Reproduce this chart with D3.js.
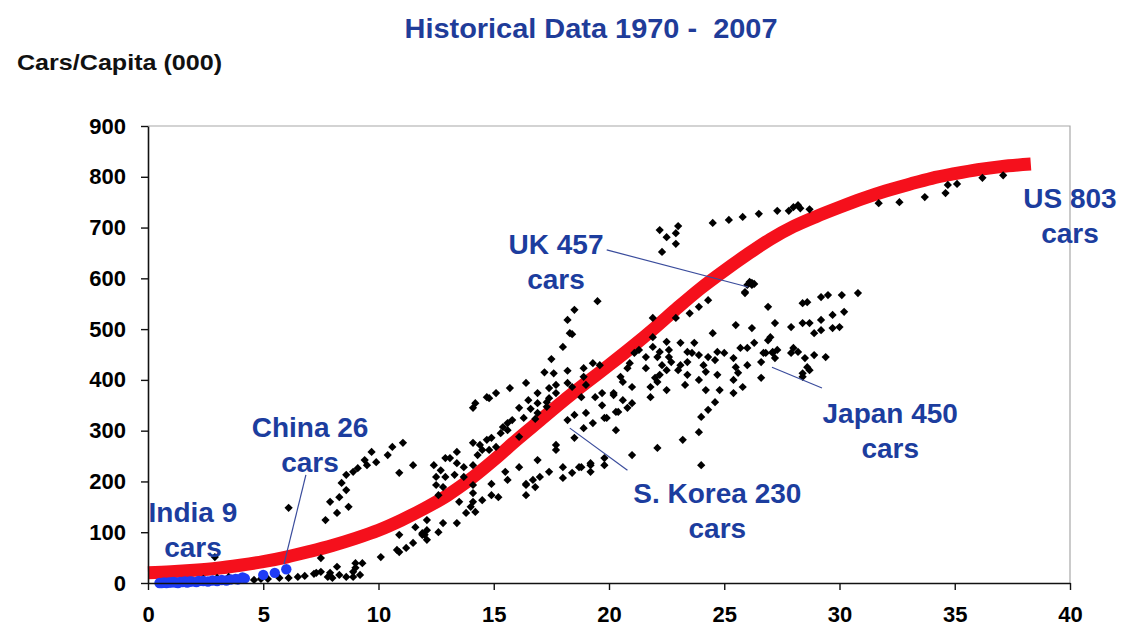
<!DOCTYPE html>
<html><head><meta charset="utf-8">
<script src="https://cdn.jsdelivr.net/npm/d3@7/dist/d3.min.js"></script>
<style>
body{margin:0;background:#fff;}
svg{display:block;font-family:Arial,"Liberation Sans",sans-serif;}
</style></head><body>
<svg id="chart" width="1122" height="629"></svg>
<script>
const xTicks = [0,5,10,15,20,25,30,35,40];
const yTicks = [0,100,200,300,400,500,600,700,800,900];

// Red fitted trend (cars per 1000 vs income)
const trendX = [0,1,2,3,4,5,6,7,8,9,10,11,12,13,14,15,16,17,18,19,20,21,22,23,24,25,26,27,28,29,30,31,32,33,34,35,36,37,38.3];
const trendY = [20,22,25,29,35,42,51,62,74,88,104,124,147,173,205,242,282,320,358,394,429,465,503,543,581,615,647,677,702,722,740,757,772,785,797,806,814,820,825];

// Blue (India / China)
const blueX = [0.5,0.6,0.7,0.8,0.9,1.0,1.1,1.2,1.3,1.4,1.5,1.6,1.7,1.8,1.9,2.1,2.2,2.4,2.6,2.8,3.0,3.2,3.4,3.6,3.8,3.9,4.1,4.2,5.0,5.5,6.0];
const blueY = [0,0,1,0,1,1,2,1,0,2,2,3,1,3,3,2,4,4,3,5,4,6,5,7,8,7,11,9,16,20,27];

// Black (other countries, 1970-2007)
const blackPts = [
[2.9,51],[2.4,8],[3.0,10],[3.5,12],[4.6,6],[4.9,8],[5.2,8],[5.7,10],[6.1,10],[6.5,12],[6.8,14],[7.2,18],[7.3,20],[7.5,49],[7.5,22],[7.8,12],[7.9,20],[8.0,10],[8.2,32],[8.3,16],[8.6,12],[8.9,12],[8.9,22],[9.0,30],[9.0,39],[9.2,16],[9.3,39],[10.1,51],[10.8,65],[6.1,148],
[7.7,124],[7.9,160],[8.2,138],[8.3,169],[8.4,197],[8.6,183],[8.6,213],[8.7,150],[8.9,219],[9.1,226],[9.4,242],[9.5,232],[9.7,258],[9.9,238],[10.4,252],[10.6,268],[11.06,276],[11.5,232],[10.9,217],[12.4,232],[12.5,193],[12.6,173],[12.1,124],[11.6,110],[12.1,104],[10.9,95],[11.9,95],[12.1,85],[11.5,79],[11.2,69],[10.9,61],[12.0,95],[12.6,100],[13.4,118],[12.8,118],[11.9,98],
[18.4,490],[18.0,465],[17.5,441],[17.2,415],[17.6,413],[18.2,418],[18.9,423],[19.3,433],[19.6,429],[16.4,394],[15.7,384],[15.1,374],[14.8,364],[14.2,354],[14.1,345],[16.9,374],[17.4,384],[17.7,390],[17.7,374],[18.2,394],[18.4,386],[18.9,406],[19.0,390],[16.5,360],[16.1,345],[16.6,343],[16.9,354],[17.3,356],[17.3,347],[16.9,335],[16.8,323],[16.3,325],[15.8,321],[15.6,315],[15.4,307],[15.6,301],[15.3,295],[14.9,286],[14.7,282],[14.4,272],[14.1,276],[14.5,262],[14.8,262],[15.1,268],[16.1,288],[13.4,258],[13.1,246],[12.9,246],[12.7,222],[12.5,209],[12.9,209],[13.4,236],[13.7,228],[14.1,232],[13.3,213],[13.7,209],[12.8,189],[16.1,228],[16.9,242],[17.7,272],[17.7,262],[18.0,228],[17.4,219],[17.0,209],[16.7,203],[16.4,195],[16.8,189],[18.0,207],[18.4,217],[18.8,228],[19.2,236],[19.2,219],[19.8,246],[15.6,203],[14.9,195],[15.2,169],[14.9,173],[14.5,163],[14.1,177],[14.1,160],[14.0,150],[14.2,140],[13.8,138],[13.5,160],[16.4,173],[16.4,193],[15.5,219],[14.3,252],[14.1,193],[17.4,364],[19.7,374],[19.4,366],[20.2,374],[20.3,337],[19.8,325],[19.3,315],[19.0,335],[18.5,331],[18.9,305],[18.5,286],[18.2,321],[18.8,366],[20.3,301],
[19.5,555],[18.5,538],[18.2,518],[18.3,492],[14.7,366],
[25.9,571],[26.9,544],[24.3,557],[23.9,544],[23.5,531],[22.9,522],[21.9,522],[25.5,508],[26.2,502],[27.2,512],[24.5,492],[22.5,475],[23.1,473],[23.7,473],[21.9,465],[21.3,459],[22.2,455],[22.6,459],[23.4,455],[23.6,453],[23.9,449],[24.7,455],[25.0,453],[25.7,463],[26.0,463],[26.3,473],[27.0,484],[27.1,455],[26.7,453],[21.1,453],[21.6,445],[22.1,445],[22.6,445],[22.7,435],[23.1,429],[23.4,435],[24.3,445],[24.6,439],[25.4,443],[26.0,429],[26.6,435],[20.9,433],[20.8,423],[21.6,423],[22.3,429],[22.5,419],[22.2,410],[22.0,404],[22.1,396],[23.0,419],[23.4,410],[24.1,429],[24.2,416],[24.7,410],[25.5,425],[25.6,414],[25.4,400],[25.8,386],[26.6,404],[20.5,406],[20.6,396],[21.0,386],[21.8,386],[21.8,366],[22.5,380],[23.3,390],[23.9,400],[24.2,380],[24.8,380],[25.4,374],[20.2,370],[20.6,360],[21.0,354],[20.8,345],[20.4,337],[19.7,350],[19.9,325],[24.6,356],[24.3,341],[24.0,327],[23.9,297],[23.2,282],[22.1,266],[21.0,252],[19.8,232],[24.0,232],[21.9,484],[19.2,232],[18.7,228],
[30.8,571],[30.1,567],[29.5,567],[29.2,563],[28.6,553],[28.4,551],[30.2,534],[29.7,528],[29.2,518],[30.0,504],[29.7,502],[29.2,498],[28.9,492],[28.7,512],[28.4,512],[27.9,504],[26.9,478],[28.0,463],[28.2,455],[27.9,453],[27.3,459],[27.1,453],[26.8,453],[27.2,443],[28.5,443],[28.9,449],[29.4,445],[28.6,425],[28.7,419],[28.4,413],[28.4,406],
[22.2,695],[23.0,703],[22.9,689],[22.5,681],[22.9,668],[22.3,652],[24.5,709],[25.2,715],[25.8,721],[26.5,727],[27.3,733],[27.8,733],[28.0,740],[28.2,744],[28.3,738],[28.7,736],[26.1,593],[26.2,587],[26.0,587],[25.9,573],[26.2,591],[26.3,589],[31.7,748],[32.6,750],[33.7,760],[34.6,768],[34.7,784],[35.1,786],[36.2,798],[37.1,803]
];

// Annotations: label lines, anchor (x,y in data units) and leader lines
const labelNames = ["India 9","China 26","UK 457","US 803","Japan 450","S. Korea 230"];
const labelX = [1.95,7.03,17.7,40.0,32.2,24.7];
const labelY = [120,287,648,738,315,157];
const leaders = [
  [[6.85,213],[5.9,37]],
  [[19.9,656],[26.03,583]],
  [[18.3,305],[20.8,222]],
  [[27.07,425],[29.24,384]]
];

const svg = d3.select("#chart");
const L=148, R=1070, T=126, B=583;
const x = d3.scaleLinear().domain([0,40]).range([L,R]);
const y = d3.scaleLinear().domain([0,900]).range([B,T]);

// frame (top & right)
svg.append("path").attr("d",`M${L},${T}H${R}V${B}`).attr("fill","none").attr("stroke","#a8a8a8").attr("stroke-width",1.2);

// Title & axis title
svg.append("text").attr("x",591).attr("y",38).attr("text-anchor","middle")
  .attr("font-size",28).attr("font-weight","bold").attr("fill","#1f3c99")
  .attr("textLength",373).attr("lengthAdjust","spacingAndGlyphs")
  .style("white-space","pre").text("Historical Data 1970 -  2007");
svg.append("text").attr("x",17).attr("y",70).attr("font-size",22).attr("font-weight","bold")
  .attr("fill","#111").attr("textLength",205).attr("lengthAdjust","spacingAndGlyphs").text("Cars/Capita (000)");

// data
const line = d3.line().x((d,i)=>x(trendX[i])).y((d,i)=>y(trendY[i])).curve(d3.curveMonotoneX);
svg.append("path").attr("d",line(trendX)).attr("fill","none").attr("stroke","#f5101c").attr("stroke-width",13);

const diamond = d3.symbol().type(d3.symbolSquare).size(34);
svg.append("g").selectAll("path").data(blackPts).join("path")
  .attr("d",diamond).attr("fill","#000")
  .attr("transform",d=>`translate(${x(d[0])},${y(d[1])}) rotate(45)`);

svg.append("g").selectAll("circle").data(blueX).join("circle")
  .attr("cx",(d,i)=>x(d)).attr("cy",(d,i)=>y(blueY[i])).attr("r",5.2).attr("fill","#1f3cf5");

// axes
const yAxis = d3.axisLeft(y).tickValues(yTicks).tickSize(7).tickSizeOuter(0).tickPadding(15);
const xAxis = d3.axisBottom(x).tickValues(xTicks).tickSize(7).tickSizeOuter(0).tickPadding(16);
const gy = svg.append("g").attr("transform",`translate(${L},0)`).call(yAxis);
const gx = svg.append("g").attr("transform",`translate(0,${B})`).call(xAxis);
[gx,gy].forEach(g=>{
  g.select(".domain").attr("stroke","#111").attr("stroke-width",1.6);
  g.selectAll(".tick line").attr("stroke","#111").attr("stroke-width",1.4);
  g.selectAll(".tick text").attr("font-size",22).attr("font-weight","bold").attr("fill","#000")
    .attr("font-family",'Arial,"Liberation Sans",sans-serif');
});

// leader lines
svg.append("g").selectAll("line").data(leaders).join("line")
  .attr("x1",d=>x(d[0][0])).attr("y1",d=>y(d[0][1])).attr("x2",d=>x(d[1][0])).attr("y2",d=>y(d[1][1]))
  .attr("stroke","#3a4c9c").attr("stroke-width",1.2);

// labels
const lg = svg.append("g");
labelNames.forEach((n,i)=>{
  const t = lg.append("text").attr("x",x(labelX[i])).attr("y",y(labelY[i])).attr("text-anchor","middle")
    .attr("font-size",28).attr("font-weight","bold").attr("fill","#1c3d9e");
  t.append("tspan").attr("x",x(labelX[i])).text(n);
  t.append("tspan").attr("x",x(labelX[i])).attr("dy",35).text("cars");
});
</script></body></html>
